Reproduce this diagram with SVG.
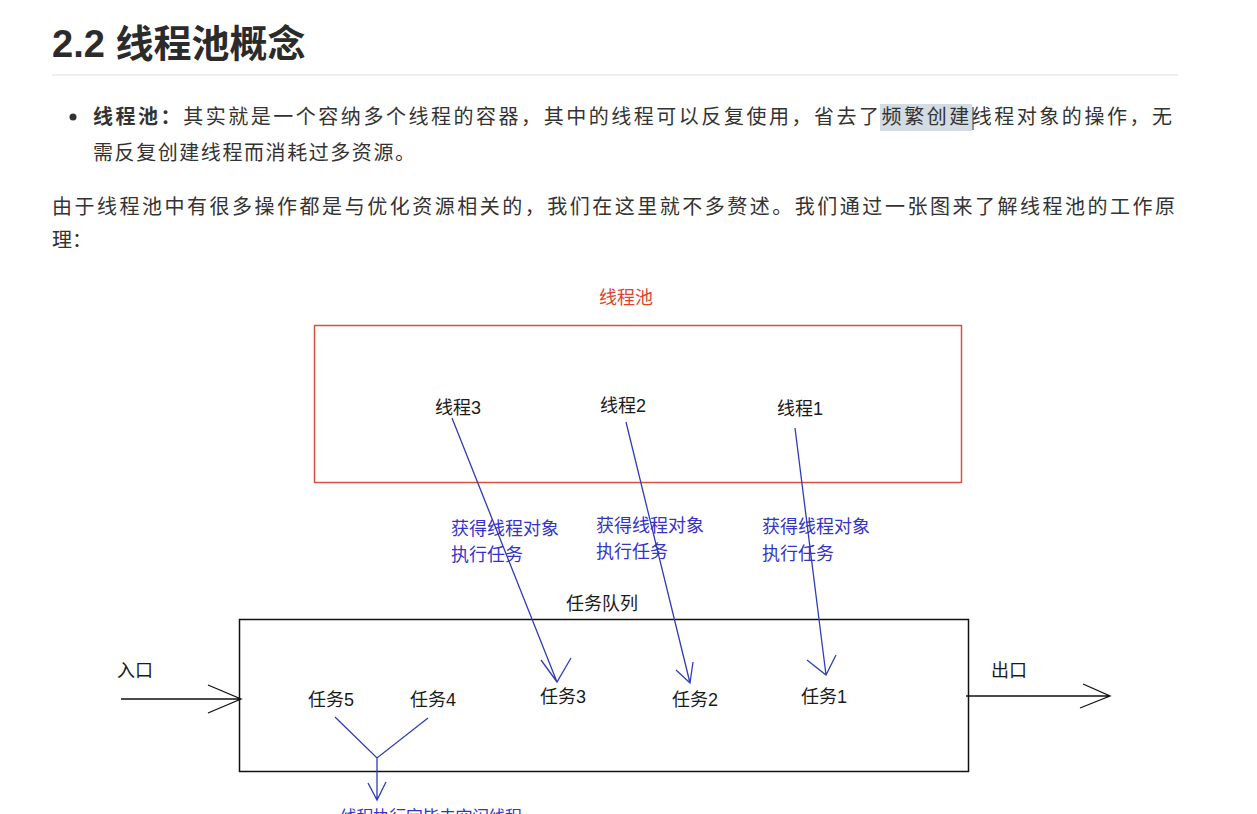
<svg xmlns="http://www.w3.org/2000/svg" width="1257" height="814" viewBox="0 0 1257 814">
<style>
.art{font-family:"Liberation Sans","Noto Sans CJK SC",sans-serif;fill:#333;font-size:20px}
.lbl{font-family:"Liberation Sans","Noto Sans CJK SC",sans-serif;fill:#1a1a1a;font-size:18px}
.blu{font-family:"Liberation Sans","Noto Sans CJK SC",sans-serif;fill:#3434c8;font-size:18px}
.bl{stroke:#2f3cb8;stroke-width:1.3;fill:none}
.bk{stroke:#111;stroke-width:1.3;fill:none}
</style>
<rect width="1257" height="814" fill="#fff"/>
<g id="article">
<text x="52" y="57" class="art" style="font-size:38px;font-weight:bold;fill:#2b2b2b">2.2 线程池概念</text>
<line x1="52" y1="75" x2="1178" y2="75" stroke="#eaeaea" stroke-width="1.5"/>
<circle cx="73" cy="117" r="3.5" fill="#333"/>
<rect x="880" y="104" width="92" height="27" fill="#d3dbe3"/>
<text x="93" y="124" class="art" textLength="1079" lengthAdjust="spacing"><tspan font-weight="bold">线程池：</tspan>其实就是一个容纳多个线程的容器，其中的线程可以反复使用，省去了频繁创建线程对象的操作，无</text>
<line x1="973" y1="107" x2="973" y2="130" stroke="#222" stroke-width="1"/>
<text x="93" y="160" class="art" textLength="322" lengthAdjust="spacing">需反复创建线程而消耗过多资源。</text>
<text x="52" y="214" class="art" textLength="1123" lengthAdjust="spacing">由于线程池中有很多操作都是与优化资源相关的，我们在这里就不多赘述。我们通过一张图来了解线程池的工作原</text>
<text x="52" y="247" class="art">理：</text>
</g>
<g id="pool">
<text x="626" y="304" class="lbl" text-anchor="middle" style="fill:#e2412c">线程池</text>
<rect x="314.5" y="325.5" width="647" height="157" fill="none" stroke="#d9503f" stroke-width="1.5"/>
</g>
<g id="thread3"><text x="435" y="414" class="lbl">线程3</text></g>
<g id="thread2"><text x="600" y="412" class="lbl">线程2</text></g>
<g id="thread1"><text x="777" y="415" class="lbl">线程1</text></g>
<g id="labels">
<text x="451" y="535" class="blu">获得线程对象</text>
<text x="451" y="561" class="blu">执行任务</text>
<text x="596" y="532" class="blu">获得线程对象</text>
<text x="596" y="558" class="blu">执行任务</text>
<text x="762" y="533" class="blu">获得线程对象</text>
<text x="762" y="560" class="blu">执行任务</text>
</g>
<g id="queue">
<text x="602" y="610" class="lbl" text-anchor="middle">任务队列</text>
<rect x="239.5" y="619.5" width="729" height="152" fill="none" stroke="#111" stroke-width="1.5"/>
</g>
<g id="task5"><text x="308" y="706" class="lbl">任务5</text></g>
<g id="task4"><text x="410" y="706" class="lbl">任务4</text></g>
<g id="task3"><text x="540" y="703" class="lbl">任务3</text></g>
<g id="task2"><text x="672" y="706" class="lbl">任务2</text></g>
<g id="task1"><text x="801" y="703" class="lbl">任务1</text></g>
<g id="entry"><text x="117" y="677" class="lbl">入口</text></g>
<g id="exit"><text x="991" y="677" class="lbl">出口</text></g>
<g id="connectors">
<path class="bl" d="M452 418 L557 682 M541 660 L557 682 L571 658"/>
<path class="bl" d="M626 422 L690 683 M676 670 L690 683 L693 662"/>
<path class="bl" d="M795 428 L826 675 M807 660 L826 675 L836 655"/>
<path class="bk" d="M121 699 L241 699 M208 685 L241 699 L208 713"/>
<path class="bk" d="M966 696 L1110 696 M1083 684 L1110 696 L1080 708"/>
<path class="bl" d="M335 717 L377 758 L428 718 M377 758 L377 800 M368 783 L377 800 L386 782"/>
</g>
<g id="bottom-note"><text x="340" y="823" class="blu" style="font-size:17px" textLength="182" lengthAdjust="spacing">线程执行完毕去空闲线程</text></g>
</svg>
